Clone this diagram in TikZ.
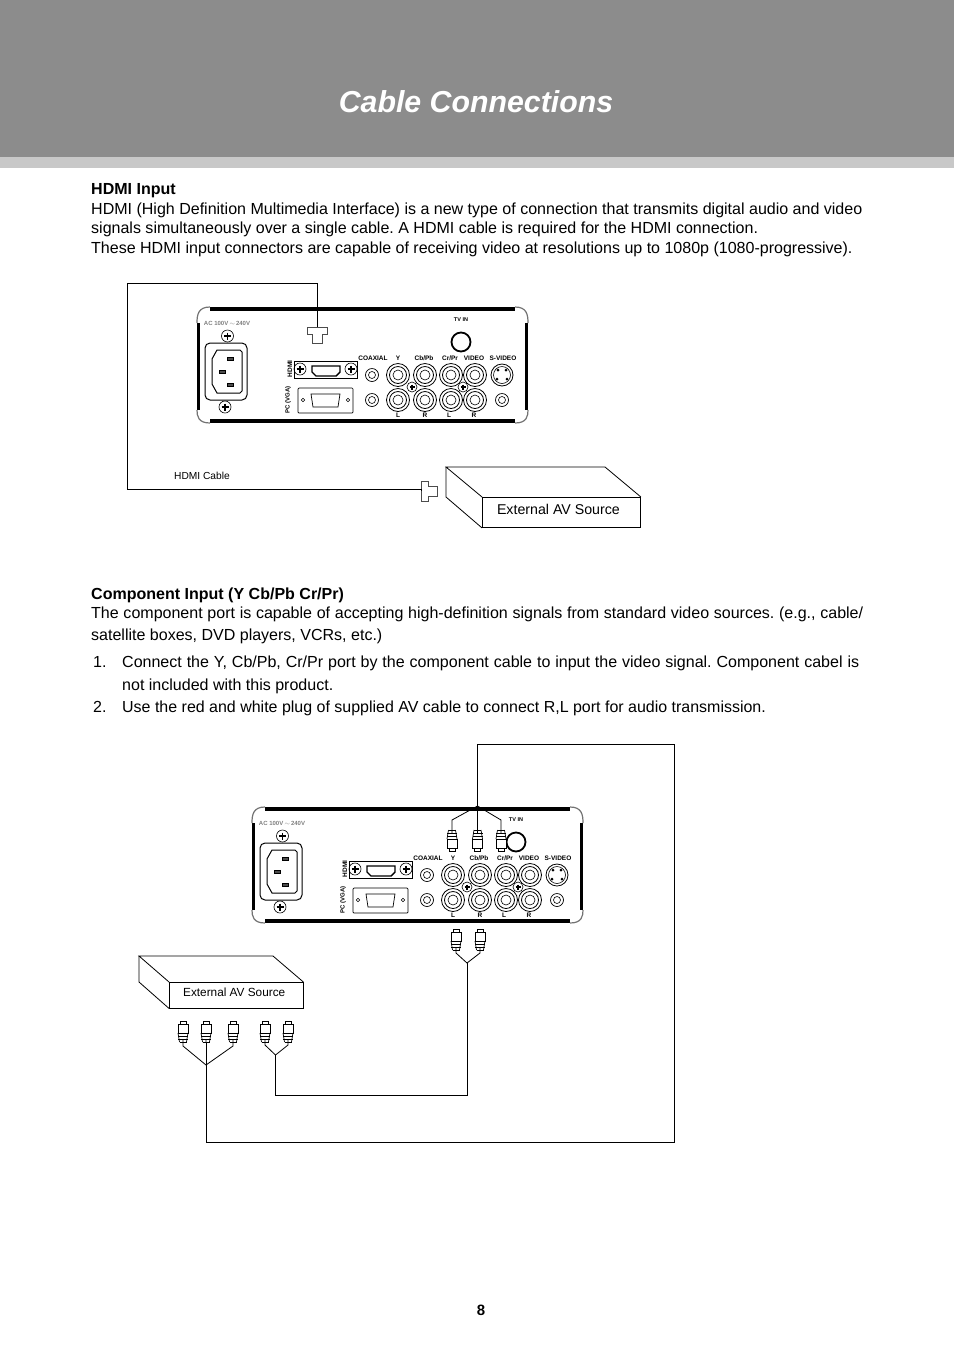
\documentclass[tikz,border=0pt]{standalone}
\usepackage{fontspec}
\setmainfont{Liberation Sans}
\usetikzlibrary{calc, positioning}
\definecolor{headgray}{HTML}{8C8C8C}
\definecolor{stripgray}{HTML}{C8C8C8}
\tikzset{
  para/.style={anchor=north west, inner sep=0pt, align=left, font=\fontsize{16.02}{19.5}\selectfont\frenchspacing},
  panellabel/.style={inner sep=0pt, font=\fontsize{6.5}{7}\selectfont\bfseries},
  avbox/.style={draw, line width=0.9pt, anchor=north west, inner sep=0pt, align=center},
  cable/.style={draw, line width=0.8pt},
  screw/.pic={
    \draw[line width=0.6pt] (0,0) circle (6);
    \draw[line width=1.4pt] (-3.5,0) -- (3.5,0) (0,-3.5) -- (0,3.5);
  },
  hdmiplug/.pic={
    \coordinate (-end) at (0,0);
    \draw[black!70, line width=0.9pt, fill=white] (-10,0) -- (10,0) -- (10,7) -- (5,7) -- (5,16) -- (-5,16) -- (-5,7) -- (-10,7) -- cycle;
  },
  rcaplug/.pic={
    \coordinate (-end) at (0,0);
    \draw[line width=0.7pt, fill=white] (-3,-18) -- (-3,-21) -- (3,-21) -- (3,-18);
    \draw[line width=0.7pt, fill=white] (-5,-9) rectangle (5,-18);
    \fill[white] (-5,-9) rectangle (5,0);
    \draw[line width=1pt] (-5,-9) -- (5,-9) (-5,-6) -- (5,-6) (-5,-3) -- (5,-3) (-3.5,0) -- (3.5,0);
    \draw[line width=0.7pt] (-5,-9) -- (-3.5,0) (5,-9) -- (3.5,0) (0,-3) -- (0,0);
  },
  backpanel/.pic={
    % case outline
    \fill (210,307) rectangle (515,311);
    \fill (210,419) rectangle (515,423);
    \fill (197,323) rectangle (200,410);
    \fill (525,323) rectangle (528,410);
    \foreach \a/\b/\c/\d/\e/\f/\g/\h in {210/307/198/307/197/315/197/323, 515/307/527/307/528/315/528/323, 210/423/198/423/197/416/197/410, 515/423/527/423/528/416/528/410}
      \draw[black!55, line width=1.2pt] (\a,\b) .. controls (\c,\d) and (\e,\f) .. (\g,\h);
    \node[panellabel, black!50, font=\fontsize{6}{7}\selectfont\bfseries] at (227,323) {AC 100V\,$\sim$\,240V};
    % power inlet
    \draw[line width=1pt, rounded corners=5] (205,343) rectangle (247,400);
    \draw[line width=1pt] (217,350) -- (240,350) -- (242,352) -- (242,391) -- (240,393) -- (217,393) -- (212,384) -- (212,359) -- cycle;
    \foreach \pos in {(230,359),(222,372),(230,385)}
      \draw[line width=1pt, fill=black!70] \pos +(-3,-1.5) rectangle +(3,1.5);
    \foreach \pos in {(227.5,336),(225,407),(300,369),(351,369)}
      \pic at \pos {screw};
    % hdmi and vga
    \draw[line width=1pt] (294,361) rectangle (357,378);
    \draw[line width=1.4pt] (312,366) -- (340,366) -- (340,372) -- (336,376) -- (316,376) -- (312,372) -- cycle;
    \draw[line width=0.7pt, rounded corners=1] (298,388) rectangle (353,413);
    \draw[line width=0.7pt] (311,394) -- (340,394) -- (338,407) -- (313,407) -- cycle;
    \foreach \x in {303,348}
      \draw[line width=0.5pt] (\x,400) circle (1.7);
    \node[panellabel, rotate=90] at (290,369) {HDMI};
    \node[panellabel, rotate=90, font=\fontsize{6}{7}\selectfont\bfseries] at (288,400) {PC (VGA)};
    % rca sockets
    \foreach \x in {398,425,451,475} \foreach \y in {375,400} {
      \draw[line width=0.8pt] (\x,\y) circle (11.5);
      \draw[line width=0.8pt] (\x,\y) circle (8.5);
      \draw[line width=0.6pt] (\x,\y) circle (5);
    }
    \foreach \pos in {(372,375),(372,400),(502,400)} {
      \draw[line width=0.7pt] \pos circle (6.5);
      \draw[line width=0.6pt] \pos circle (3.5);
    }
    \foreach \pos in {(412,387),(463,387)} {
      \draw[fill=white, line width=0.6pt] \pos circle (5);
      \draw[line width=1.1pt] \pos +(-2.5,0) -- +(2.5,0) \pos +(0,-2.5) -- +(0,2.5);
    }
    % s-video and tv in
    \draw[line width=0.8pt] (502,375) circle (11);
    \draw[line width=0.6pt] (502,375) circle (8.5);
    \foreach \pos in {(498,370),(506,370),(497,379),(507,379)}
      \fill \pos circle (1.5);
    \draw[line width=1.8pt] (461,342) circle (9.5);
    % labels
    \node[panellabel, font=\fontsize{5.5}{7}\selectfont\bfseries] at (461,320) {TV IN};
    \foreach \x/\t in {373/COAXIAL,398/Y,424/{Cb/Pb},450/{Cr/Pr},474/VIDEO,503/S-VIDEO}
      \node[panellabel] at (\x,358) {\t};
    \foreach \x/\t in {398/L,425/R,449/L,474/R}
      \node[panellabel] at (\x,415) {\t};
  }
}
\begin{document}
\begin{tikzpicture}[x=1pt, y=-1pt]
  \useasboundingbox (0,0) rectangle (954,1350);
  % Header band
  \fill[headgray] (0,0) rectangle (954,157);
  \fill[stripgray] (0,157) rectangle (954,168);
  \node[white, inner sep=0pt, font=\fontsize{30.3}{36}\selectfont\bfseries\itshape] (title) at (476,102) {Cable Connections};

  % HDMI section
  \node[para] (hdmitext) at (91,183.5) {\textbf{HDMI Input}\\
    HDMI (High Definition Multimedia Interface) is a new type of connection that transmits digital audio and video\\
    signals simultaneously over a single cable. A HDMI cable is required for the HDMI connection.\\
    These HDMI input connectors are capable of receiving video at resolutions up to 1080p (1080-progressive).};
  \pic at (0,0) {backpanel};
  \pic (plugtop) at (317,327) {hdmiplug};
  \pic[rotate=90] (plugsrc) at (421,491) {hdmiplug};
  \node[avbox, minimum width=158, minimum height=30, font=\fontsize{14.2}{17}\selectfont] (srcA) at (482,497) {\raisebox{6pt}{External AV Source}\hspace{6pt}};
  \draw[line width=0.8pt] (srcA.north west) -- ++(-36,-30) coordinate (srcAback) -- ++(159,0) -- (srcA.north east);
  \draw[line width=0.8pt] (srcAback) -- ++(0,30) -- (srcA.south west);
  \node[inner sep=0pt, anchor=west, font=\fontsize{10.2}{12}\selectfont] (cablelabel) at (174,476) {HDMI Cable};
  \draw[cable] (plugtop-end) -- ++(0,-44) -| (127.5,489) -- (plugsrc-end |- 0,489) -- (plugsrc-end);

  % Component section
  \node[para] (comptext) at (91,587.5) {\textbf{Component Input (Y Cb/Pb Cr/Pr)}\\
    \makebox[772pt][s]{The component port is capable of accepting high-definition signals from standard video sources. (e.g., cable/}\\[2pt]
    satellite boxes, DVD players, VCRs, etc.)};
  \node[para, font=\fontsize{16.02}{23}\selectfont\frenchspacing] (numA) at (93,656) {1.};
  \node[para, font=\fontsize{16.02}{23}\selectfont\frenchspacing] (itemA) at (122,656) {\makebox[737pt][s]{Connect the Y, Cb/Pb, Cr/Pr port by the component cable to input the video signal. Component cabel is}\\
    not included with this product.};
  \node[para] (numB) at (93,701.5) {2.};
  \node[para, font=\fontsize{15.98}{19}\selectfont\frenchspacing] (itemB) at (122,700.5) {Use the red and white plug of supplied AV cable to connect R,L port for audio transmission.};

  \begin{scope}[shift={(55,500)}]
    \pic at (0,0) {backpanel};
  \end{scope}

  % Plugs on the panel
  \foreach \n/\x in {inA/452,inB/477.5,inC/501}
    \pic[rotate=180] (\n) at (\x,830) {rcaplug};
  \foreach \n/\x in {audA/456,audB/480}
    \pic (\n) at (\x,950) {rcaplug};
  \coordinate (jctin) at (477.5,806);
  \coordinate (jctaud) at (467,963);
  \draw[cable] (inA-end) -- ++(0,-10) -- (jctin);
  \draw[cable] (inC-end) -- ++(0,-10) -- (jctin);
  \draw[cable] (inB-end) -- (jctin);
  \draw[cable] (audA-end) -- ++(0,3) -- (jctaud);
  \draw[cable] (audB-end) -- ++(0,3) -- (jctaud);

  % Source box and its plugs
  \node[avbox, minimum width=133.5, minimum height=25.5, font=\fontsize{11.8}{14}\selectfont] (srcB) at (169,982) {\raisebox{5pt}{External AV Source}\hspace{4pt}};
  \draw[line width=0.8pt] (srcB.north west) -- ++(-30,-26) coordinate (srcBback) -- ++(134,0) -- (srcB.north east);
  \draw[line width=0.8pt] (srcBback) -- ++(0,26) -- (srcB.south west);
  \foreach \n/\x in {srcY/183,srcCb/206,srcCr/233,srcL/265,srcR/288}
    \pic (\n) at (\x,1042) {rcaplug};
  \coordinate (jctvid) at (206,1065);
  \coordinate (jctsnd) at (275.5,1055);
  \draw[cable] (srcY-end) -- ++(0,4) -- (jctvid);
  \draw[cable] (srcCr-end) -- ++(0,4) -- (jctvid);
  \draw[cable] (srcCb-end) -- (jctvid);
  \draw[cable] (srcL-end) -- ++(0,3) -- (jctsnd);
  \draw[cable] (srcR-end) -- ++(0,3) -- (jctsnd);

  % Long runs
  \draw[cable] (jctin) -- ++(0,-62) -| (674.5,1142.5) -| (jctvid);
  \draw[cable] (jctsnd) |- (467,1095) -- (jctaud);

  \node[inner sep=0pt, font=\fontsize{15}{18}\selectfont\bfseries] (pagenum) at (481,1310) {8};
\end{tikzpicture}
\end{document}
